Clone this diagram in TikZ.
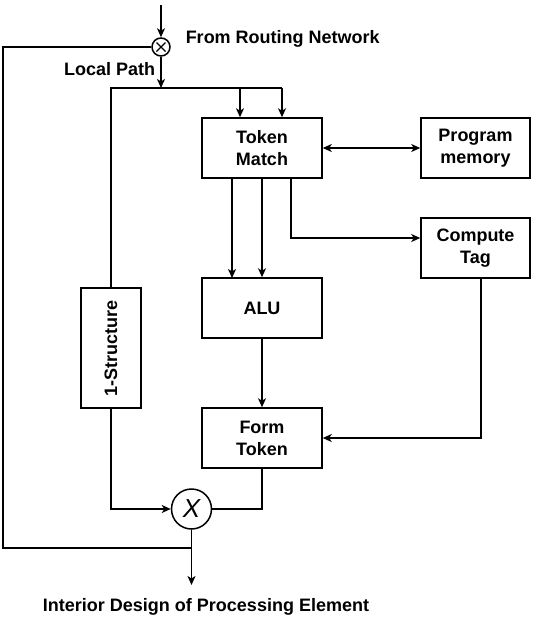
\documentclass[tikz,border=0pt]{standalone}
\usepackage{fontspec}
\setmainfont{Liberation Sans}
\usetikzlibrary{arrows.meta,calc}
\begin{document}
\begin{tikzpicture}[x=1pt,y=-1pt,
  line width=1.5pt,
  every node/.style={font=\fontsize{18}{22}\selectfont\bfseries},
  blk/.style={draw,minimum width=120pt,minimum height=60pt,align=center,inner sep=0pt},
  sblk/.style={draw,minimum width=109pt,minimum height=60pt,align=center,inner sep=0pt},
  arr/.style={-{Stealth[length=9pt,width=8pt,inset=2.5pt]}},
  darr/.style={{Stealth[length=9pt,width=8pt,inset=2.5pt]}-{Stealth[length=9pt,width=8pt,inset=2.5pt]}},
  lbl/.style={inner sep=0pt}
]
\useasboundingbox (0,0) rectangle (542,619);
% boxes
\node[blk] (tm) at (262,148) {Token\\Match};
\node[sblk] (pm) at (475.5,148) {Program\\memory};
\node[sblk] (ct) at (475.5,248) {Compute\\Tag};
\node[blk] (alu) at (262,308) {ALU};
\node[blk] (ft) at (262,438) {Form\\Token};
\node[draw,minimum width=60pt,minimum height=120pt,inner sep=0pt] (st) at (111,348) {};
\node[rotate=90,lbl] at (st.center) {1-Structure};
% circles
\node[draw,circle,minimum size=18pt,inner sep=0pt] (c1) at (161,47) {};
\draw[line width=1.2pt] ($(c1.center)+(-4.5,-4.5)$) -- ($(c1.center)+(4.5,4.5)$)
                        ($(c1.center)+(-4.5,4.5)$) -- ($(c1.center)+(4.5,-4.5)$);
\node[draw,circle,minimum size=40pt,inner sep=0pt] (c2) at (191.5,509) {};
\node[lbl,font=\fontsize{26}{28}\selectfont\itshape] at (c2.center) {X};
% coordinates
\coordinate (top) at (161,5);
\coordinate (j1) at (161,88);
\coordinate (lft) at (111,88);
\coordinate (r1) at (240,88);
\coordinate (r2) at (282,88);
\coordinate (bot) at (191.5,585);
\coordinate (fb) at (3,47);
\coordinate (cts) at (481,278);
% labels
\node[lbl,anchor=west] at (185,39) {From Routing Network};
\node[lbl,anchor=east] at (156,69) {Local Path};
\node[lbl] at (206,607) {Interior Design of Processing Element};
% connectors
\draw[arr] (top) -- (c1.north);
\draw[arr] (c1.south) -- (j1);
\draw (c1.west) -- (fb) -- (3,548) -- (191.5,548);
\draw (st.north) -- (lft) -- (r2);
\draw[arr] (r1) -- (r1 |- tm.north);
\draw[arr] (r2) -- (r2 |- tm.north);
\draw[darr] (tm.east) -- (pm.west);
\draw[arr] (232,178) -- (232,278);
\draw[arr] (262,178) -- (alu.north);
\draw[arr] (291,178) -- (291,238) -- (ct.west |- 0,238);
\draw[arr] (alu.south) -- (ft.north);
\draw[arr] (cts) -- (481,438) -- (ft.east |- 0,438);
\draw[arr] (st.south) -- (111,509) -- (c2.west);
\draw (ft.south) -- (262,509) -- (c2.east);
\draw[arr] (c2.south) -- (bot);
\end{tikzpicture}
\end{document}
